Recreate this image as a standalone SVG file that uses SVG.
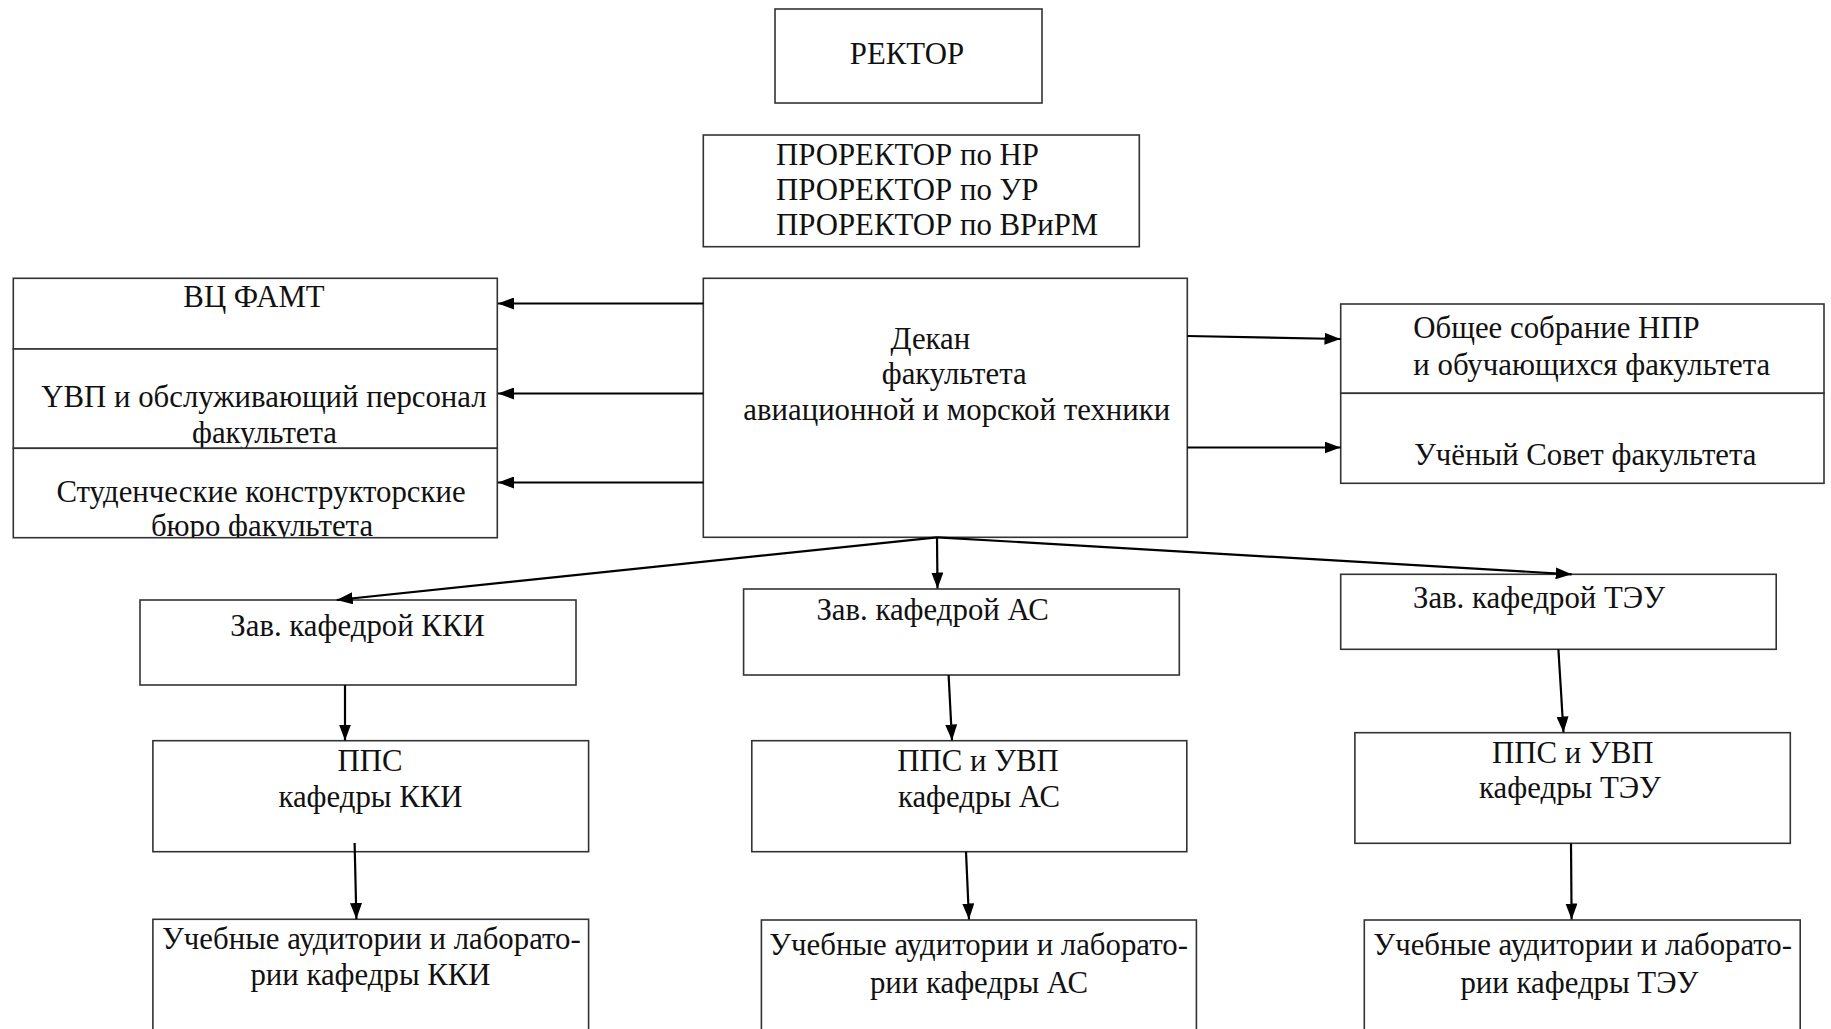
<svg xmlns="http://www.w3.org/2000/svg" width="1831" height="1029" viewBox="0 0 1831 1029">
<style>
.box{fill:#fff;stroke:#333;stroke-width:1.6}
.t{font-family:"Liberation Serif","Times New Roman",serif;font-size:30.8px;fill:#111}
.m{text-anchor:middle}
.c{stroke:#000;stroke-width:2.2;fill:none}
</style>
<defs>
<marker id="ah" viewBox="0 0 16 12" refX="16" refY="6" markerWidth="16" markerHeight="12" markerUnits="userSpaceOnUse" orient="auto">
<path d="M0,0 L16,6 L0,12 Z" fill="#000"/>
</marker>
<clipPath id="clipUvp"><rect x="13" y="349" width="485" height="99.3"/></clipPath>
<clipPath id="clipSkb"><rect x="13" y="448.3" width="485" height="89.4"/></clipPath>
</defs>
<rect width="1831" height="1029" fill="#fff"/>

<g id="rector">
<rect class="box" x="775" y="9" width="267" height="94"/>
<text class="t m" x="907" y="64">РЕКТОР</text>
</g>
<g id="prorectors">
<rect class="box" x="703.3" y="135" width="436" height="111.7"/>
<text class="t" x="776" y="165">ПРОРЕКТОР по НР</text>
<text class="t" x="776" y="200">ПРОРЕКТОР по УР</text>
<text class="t" x="776" y="235">ПРОРЕКТОР по ВРиРМ</text>
</g>
<g id="dean">
<rect class="box" x="703.3" y="278.3" width="484" height="259"/>
<text class="t" x="890.5" y="349">Декан</text>
<text class="t" x="881.7" y="383.5">факультета</text>
<text class="t" x="743.3" y="420">авиационной и морской техники</text>
</g>
<g id="vc">
<rect class="box" x="13.3" y="278.3" width="484" height="70.7"/>
<text class="t m" x="254" y="306.7">ВЦ ФАМТ</text>
</g>
<g id="uvp">
<rect class="box" x="13.3" y="349" width="484" height="99.3"/>
<g clip-path="url(#clipUvp)">
<text class="t m" x="264" y="406.7">YВП и обслуживающий персонал</text>
<text class="t m" x="264.5" y="442.5">факультета</text>
</g>
</g>
<g id="skb">
<rect class="box" x="13.3" y="448.3" width="484" height="89.4"/>
<g clip-path="url(#clipSkb)">
<text class="t m" x="261" y="502">Студенческие конструкторские</text>
<text class="t m" x="262" y="536">бюро факультета</text>
</g>
</g>
<g id="general-meeting">
<rect class="box" x="1340.7" y="304" width="483.3" height="89.3"/>
<text class="t" x="1413.3" y="338">Общее собрание НПР</text>
<text class="t" x="1413.3" y="375">и обучающихся факультета</text>
</g>
<g id="academic-council">
<rect class="box" x="1340.7" y="393.3" width="483.3" height="90"/>
<text class="t" x="1414" y="465">Учёный Совет факультета</text>
</g>

<g id="head-kki">
<rect class="box" x="140" y="600" width="436" height="85"/>
<text class="t m" x="357.5" y="635.5">Зав. кафедрой ККИ</text>
</g>
<g id="head-as">
<rect class="box" x="743.6" y="589" width="435.7" height="86"/>
<text class="t m" x="932.6" y="620">Зав. кафедрой АС</text>
</g>
<g id="head-teu">
<rect class="box" x="1340.7" y="574.3" width="435.5" height="75"/>
<text class="t m" x="1539" y="608">Зав. кафедрой ТЭУ</text>
</g>

<g id="pps-kki">
<rect class="box" x="152.9" y="740.7" width="435.7" height="111"/>
<text class="t m" x="370" y="771">ППС</text>
<text class="t m" x="370.5" y="806.5">кафедры ККИ</text>
</g>
<g id="pps-as">
<rect class="box" x="751.8" y="740.7" width="435" height="111"/>
<text class="t m" x="978" y="771">ППС и УВП</text>
<text class="t m" x="979" y="807">кафедры АС</text>
</g>
<g id="pps-teu">
<rect class="box" x="1354.9" y="732.7" width="435.4" height="110.6"/>
<text class="t m" x="1572.7" y="762.5">ППС и УВП</text>
<text class="t m" x="1570" y="798.3">кафедры ТЭУ</text>
</g>

<g id="lab-kki">
<rect class="box" x="152.9" y="919.3" width="435.7" height="140"/>
<text class="t m" x="371.4" y="949.3">Учебные аудитории и лаборато-</text>
<text class="t m" x="370.5" y="985.3">рии кафедры ККИ</text>
</g>
<g id="lab-as">
<rect class="box" x="761.4" y="920" width="435" height="140"/>
<text class="t m" x="978.6" y="954.5">Учебные аудитории и лаборато-</text>
<text class="t m" x="979" y="992.5">рии кафедры АС</text>
</g>
<g id="lab-teu">
<rect class="box" x="1364.3" y="920" width="435.9" height="140"/>
<text class="t m" x="1582.7" y="954.5">Учебные аудитории и лаборато-</text>
<text class="t m" x="1579.4" y="992.5">рии кафедры ТЭУ</text>
</g>

<g id="connectors">
<line class="c" x1="703.3" y1="303.5" x2="498" y2="303.5" marker-end="url(#ah)"/>
<line class="c" x1="703.3" y1="393.5" x2="498" y2="393.5" marker-end="url(#ah)"/>
<line class="c" x1="703.3" y1="482.5" x2="498" y2="482.5" marker-end="url(#ah)"/>
<line class="c" x1="1187.3" y1="336" x2="1340.5" y2="339" marker-end="url(#ah)"/>
<line class="c" x1="1187.3" y1="447.5" x2="1340.5" y2="447.5" marker-end="url(#ah)"/>
<line class="c" x1="937" y1="537.3" x2="336.7" y2="600" marker-end="url(#ah)"/>
<line class="c" x1="937" y1="537.3" x2="937.5" y2="588.5" marker-end="url(#ah)"/>
<line class="c" x1="937" y1="537.3" x2="1571.7" y2="574.3" marker-end="url(#ah)"/>
<line class="c" x1="345" y1="685" x2="345" y2="740.5" marker-end="url(#ah)"/>
<line class="c" x1="354.6" y1="843" x2="356.4" y2="919" marker-end="url(#ah)"/>
<line class="c" x1="948.6" y1="675" x2="952" y2="740.5" marker-end="url(#ah)"/>
<line class="c" x1="966" y1="851.7" x2="969" y2="919.5" marker-end="url(#ah)"/>
<line class="c" x1="1558.4" y1="649.3" x2="1563.5" y2="732.5" marker-end="url(#ah)"/>
<line class="c" x1="1571" y1="843.3" x2="1571.6" y2="919.5" marker-end="url(#ah)"/>
</g>
</svg>
